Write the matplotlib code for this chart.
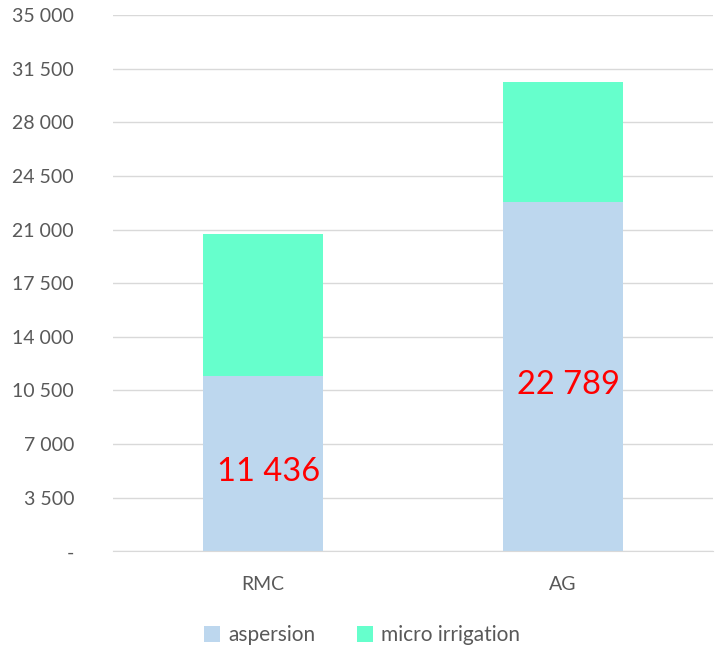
import matplotlib

matplotlib.use("Agg")
import matplotlib.pyplot as plt
from matplotlib.ticker import FuncFormatter

# data
categories = ["RMC", "AG"]
aspersion = [11436, 22789]
micro_irrigation = [9270, 7850]

yticks = list(range(0, 35001, 3500))

plt.rcParams["font.family"] = ["Lato", "DejaVu Sans"]

fig = plt.figure(figsize=(7.17, 6.51), dpi=100)
ax = fig.add_axes([0.1576, 0.153, 0.8368, 0.824])

x = range(len(categories))
b1 = ax.bar(x, aspersion, width=0.4, color="#bdd7ee", label="aspersion", zorder=2)
ax.bar(x, micro_irrigation, width=0.4, bottom=aspersion, color="#66ffcc",
       label="micro irrigation", zorder=2)

# data labels on the aspersion part, slightly off-centre like the original
labels = [f"{v:,}".replace(",", " ") for v in aspersion]
for rect, lab in zip(b1, labels):
    ax.annotate(lab, (rect.get_x() + rect.get_width() / 2, rect.get_height() / 2),
                xytext=(4, -6), textcoords="offset points", ha="center", va="center",
                color="red", fontsize=23.5)

ax.set_xlim(-0.5, 1.5)
ax.set_ylim(0, 35000)
ax.set_yticks(yticks)
ax.yaxis.set_major_formatter(
    FuncFormatter(lambda v, p: "-" if v == 0 else f"{int(v):,}".replace(",", " ")))
ax.set_xticks(list(x))
ax.set_xticklabels(categories)

ax.grid(axis="y", color="#d9d9d9", linewidth=1, zorder=0)
for s in ["top", "right", "left"]:
    ax.spines[s].set_visible(False)
ax.spines["bottom"].set_color("#d9d9d9")
ax.tick_params(axis="both", length=0, labelsize=14, colors="#595959")
ax.tick_params(axis="y", pad=28)
ax.tick_params(axis="x", pad=18)

fig.legend(loc="lower center", bbox_to_anchor=(0.505, -0.02), ncol=2, frameon=False,
           fontsize=15, labelcolor="#595959", handlelength=0.75, handleheight=0.75,
           columnspacing=2.0, handletextpad=0.4)

fig.savefig("out.png", dpi=100)
